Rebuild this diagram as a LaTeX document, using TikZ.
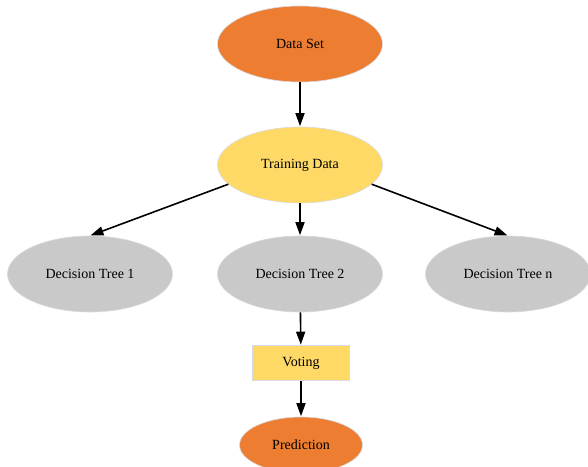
\documentclass[tikz,border=0pt]{standalone}
\usepackage{fontspec}
\setmainfont{Liberation Serif}
\usetikzlibrary{shapes.geometric,arrows.meta}
\definecolor{dsorange}{HTML}{ED7D31}
\definecolor{dsyellow}{HTML}{FFD966}
\definecolor{dsgray}{HTML}{C9C9C9}
\definecolor{dsedge}{HTML}{D6DCE5}
\tikzset{
  blob/.style={ellipse, inner sep=0pt, minimum width=165pt, minimum height=76pt,
    draw=dsedge, line width=0.6pt, font=\fontsize{14}{16}\selectfont},
  tree/.style={blob, fill=dsgray},
  flow/.style={line width=1.6pt, -{Triangle[length=13pt,width=9pt]}, shorten >=0.5pt}
}
\begin{document}
\begin{tikzpicture}[x=1pt,y=-1pt]
  \useasboundingbox (0,0) rectangle (588,466);
  \fill[white] (0,0) rectangle (588,466);

  % data flow nodes
  \node[blob, fill=dsorange] (data) at (300,44) {Data Set};
  \node[blob, fill=dsyellow] (train) at (300,165) {Training Data};
  \node[tree] (t1) at (90,274) {Decision Tree 1};
  \node[tree] (t2) at (300,274) {Decision Tree 2};
  \node[tree] (tn) at (508,274) {Decision Tree n};
  \node[draw=dsedge, line width=0.6pt, fill=dsyellow, minimum width=97pt, minimum height=35pt,
        inner sep=0pt, font=\fontsize{14}{16}\selectfont] (vote) at (301,363) {Voting};
  \node[blob, fill=dsorange, minimum width=123pt, minimum height=56pt] (pred) at (301,445) {Prediction};

  % connectors
  \draw[flow] (data) -- (train);
  \draw[flow] (train.195) -- (t1.north);
  \draw[flow] (train) -- (t2);
  \draw[flow] (train.345) -- (tn.north);
  \draw[flow] (t2) -- (vote);
  \draw[flow] (vote) -- (pred);
\end{tikzpicture}
\end{document}
